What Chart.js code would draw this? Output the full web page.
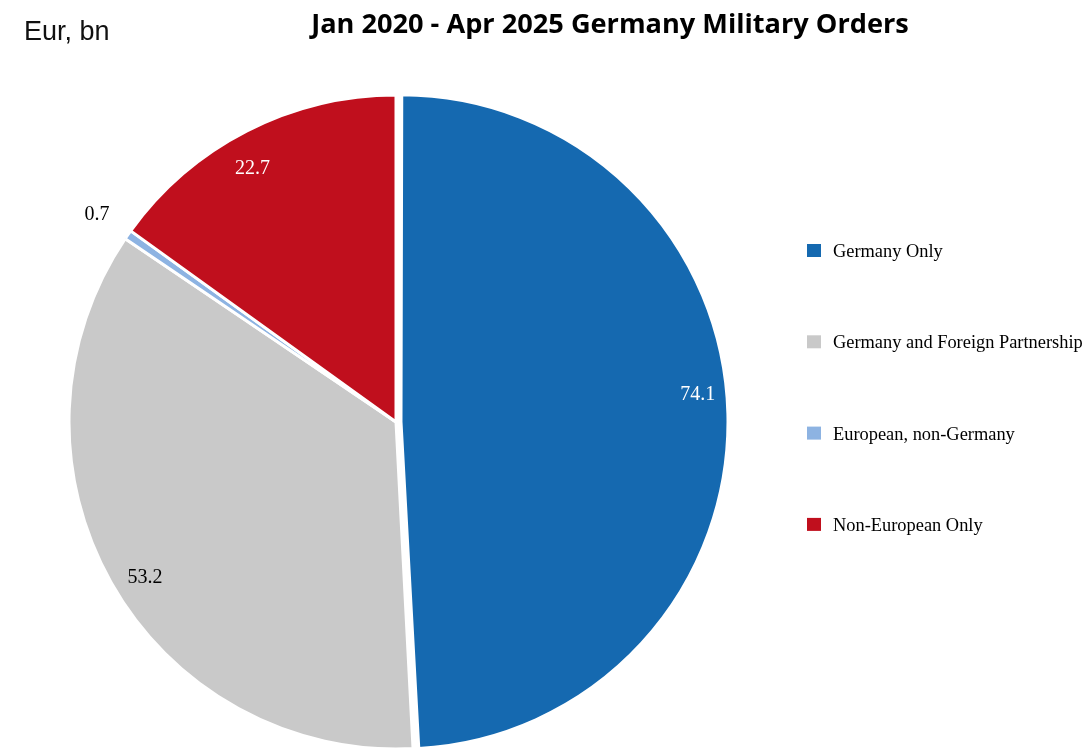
<!DOCTYPE html>
<html>
<head>
<meta charset="utf-8">
<script src="https://cdn.jsdelivr.net/npm/chart.js@4/dist/chart.umd.min.js"></script>
<style>
  html, body { margin: 0; padding: 0; background: #ffffff; }
  #wrap { position: relative; width: 1086px; height: 749px; }
  canvas { display: block; }
</style>
</head>
<body>
<div id="wrap"><canvas id="c" width="1086" height="749"></canvas></div>
<script>
// Order categories and their order values (Eur, bn)
const categories = [
  'Germany Only',
  'Germany and Foreign Partnership',
  'European, non-Germany',
  'Non-European Only'
];
const orderValues = [74.1, 53.2, 0.7, 22.7];

const chartTitle = 'Jan 2020 - Apr 2025 Germany Military Orders';
const unitLabel = 'Eur, bn';

const sliceColors = ['#1569b0', '#c9c9c9', '#8db3e2', '#c00f1d'];
const valueLabelColors = ['#ffffff', '#000000', '#000000', '#ffffff'];

// Value labels placed along each slice's mid-angle (radius factor, angle nudge in degrees)
const valueLabelPlacement = [
  { r: 0.925, da: -4 },
  { r: 0.90, da: -2 },
  { r: 1.115, da: 0 },
  { r: 0.894, da: -2.3 }
];

// Chart.js pushes an exploded arc outward by offset/4 and also widens it;
// keep the exploded slice at the same radius as the others.
const keepRadius = {
  id: 'keepRadius',
  afterDatasetUpdate(chart, args) {
    const meta = chart.getDatasetMeta(args.index);
    const ds = chart.data.datasets[args.index];
    meta.data.forEach((arc, i) => {
      const o = Array.isArray(ds.offset) ? ds.offset[i] : (ds.offset || 0);
      if (!o) return;
      const circ = arc.endAngle - arc.startAngle;
      const fix = 1 - Math.sin(Math.min(Math.PI, circ || 0));
      arc.outerRadius -= (o / 4) * fix;
    });
  }
};

const valueLabels = {
  id: 'valueLabels',
  afterDatasetsDraw(chart) {
    const ctx = chart.ctx;
    const meta = chart.getDatasetMeta(0);
    const ds = chart.data.datasets[0];
    ctx.save();
    ctx.font = '20px "Liberation Serif", "Times New Roman", serif';
    ctx.textAlign = 'center';
    ctx.textBaseline = 'alphabetic';
    meta.data.forEach((arc, i) => {
      const p = arc.getProps(['x', 'y', 'startAngle', 'endAngle', 'outerRadius'], true);
      const off = (Array.isArray(ds.offset) ? ds.offset[i] : (ds.offset || 0)) / 4;
      const mid = (p.startAngle + p.endAngle) / 2;
      const cx = p.x + Math.cos(mid) * off;
      const cy = p.y + Math.sin(mid) * off;
      const pl = valueLabelPlacement[i];
      const a = mid + pl.da * Math.PI / 180;
      const r = p.outerRadius * pl.r;
      const x = cx + Math.cos(a) * r;
      const y = cy + Math.sin(a) * r;
      ctx.fillStyle = valueLabelColors[i];
      ctx.fillText(orderValues[i].toFixed(1), x, y + 7);
    });
    ctx.restore();
  }
};

// Title, unit caption and the side legend
const decorations = {
  id: 'decorations',
  afterDraw(chart) {
    const ctx = chart.ctx;
    ctx.save();
    // title: bold sans, fitted to its line width
    let size = 26;
    ctx.font = 'bold ' + size + 'px "Open Sans", "Liberation Sans", sans-serif';
    const w = ctx.measureText(chartTitle).width;
    size = size * 598 / w;
    ctx.font = 'bold ' + size.toFixed(2) + 'px "Open Sans", "Liberation Sans", sans-serif';
    ctx.fillStyle = '#000000';
    ctx.textAlign = 'center';
    ctx.textBaseline = 'alphabetic';
    ctx.fillText(chartTitle, 610, 33);

    ctx.font = '27px "Liberation Sans", Arial, sans-serif';
    ctx.textAlign = 'left';
    ctx.fillStyle = '#111111';
    ctx.fillText(unitLabel, 24, 40);

    // legend
    ctx.font = '18.4px "Liberation Serif", "Times New Roman", serif';
    const colors = chart.data.datasets[0].backgroundColor;
    chart.data.labels.forEach((lab, i) => {
      const base = 257 + i * 91.3;
      ctx.fillStyle = colors[i];
      ctx.fillRect(807, base - 13, 14, 13);
      ctx.fillStyle = '#000000';
      ctx.fillText(lab, 833, base);
    });
    ctx.restore();
  }
};

new Chart(document.getElementById('c'), {
  type: 'pie',
  data: {
    labels: categories,
    datasets: [{
      data: orderValues,
      backgroundColor: sliceColors,
      borderColor: '#ffffff',
      borderWidth: 3,
      offset: [20, 0, 0, 0],
      radius: 327
    }]
  },
  options: {
    responsive: false,
    animation: false,
    layout: { padding: { left: 0, right: 294, top: 96, bottom: 1 } },
    plugins: {
      legend: { display: false },
      title: { display: false },
      tooltip: { enabled: false }
    }
  },
  plugins: [keepRadius, valueLabels, decorations]
});
</script>
</body>
</html>
